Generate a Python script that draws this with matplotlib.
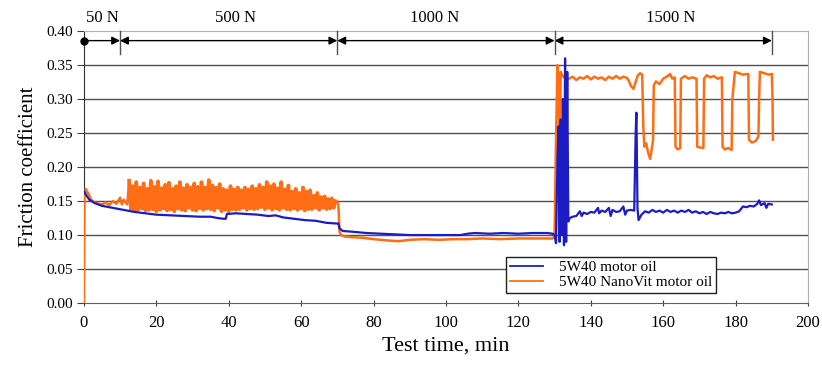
import numpy as np
import matplotlib
matplotlib.use("Agg")
import matplotlib.pyplot as plt

plt.rcParams['font.family'] = ['Liberation Serif', 'DejaVu Serif']

# 5W40 motor oil (blue)
blue_t = [0.0, 0.5, 1.5, 3, 5, 8, 11, 14, 17, 20, 24, 28, 32, 35, 37, 38.5, 39.2, 39.5,
          42, 45, 48, 51, 53, 55, 58, 61, 64, 67, 69.8, 70.3, 70.6, 71.5, 74, 78, 82, 86,
          90, 95, 100, 104, 106, 108, 112, 116, 120, 124, 128, 129.5, 130.0, 130.4, 130.8,
          131.1, 131.4, 131.7, 132.0, 132.3, 132.6, 132.9, 133.2, 133.5, 133.8, 134.2, 135,
          136, 137, 137.5, 138, 139, 140, 141, 142, 142.3, 143, 144, 145, 145.5, 146, 147,
          148, 149, 149.5, 150, 151, 152, 152.4, 152.6, 152.9, 153.2, 154, 155, 156, 157,
          158, 159, 160, 161, 162, 163, 164, 165, 166, 167, 168, 169, 170, 171, 172, 173,
          174, 175, 176, 177, 178, 179, 180, 181, 182, 183, 184, 185, 186, 186.5, 187, 188,
          188.5, 189, 190]
blue_f = [0.165, 0.16, 0.152, 0.147, 0.143, 0.14, 0.137, 0.134, 0.132, 0.13, 0.129, 0.128,
          0.127, 0.127, 0.125, 0.124, 0.124, 0.131, 0.132, 0.131, 0.13, 0.128, 0.129, 0.126,
          0.124, 0.122, 0.121, 0.118, 0.117, 0.117, 0.11, 0.106, 0.105, 0.103, 0.102, 0.101,
          0.1, 0.1, 0.1, 0.1, 0.102, 0.103, 0.102, 0.103, 0.102, 0.103, 0.103, 0.102, 0.1,
          0.088, 0.21, 0.26, 0.09, 0.27, 0.1, 0.3, 0.085, 0.36, 0.09, 0.34, 0.12, 0.125,
          0.127, 0.128, 0.135, 0.128, 0.133, 0.131, 0.134, 0.133, 0.14, 0.132, 0.136, 0.134,
          0.14, 0.128, 0.137, 0.134, 0.135, 0.142, 0.13, 0.136, 0.137, 0.136, 0.25, 0.28,
          0.14, 0.122, 0.13, 0.135, 0.133, 0.137, 0.134, 0.136, 0.133, 0.137, 0.134, 0.136,
          0.133, 0.136, 0.134, 0.137, 0.133, 0.135, 0.132, 0.134, 0.131, 0.134, 0.132, 0.131,
          0.133, 0.132, 0.134, 0.132, 0.133, 0.135, 0.142, 0.141, 0.143, 0.142, 0.146, 0.151,
          0.144, 0.147, 0.14, 0.146, 0.145]

# 5W40 NanoVit motor oil (orange): start, noisy 500 N band, rest
orange_start_t = [0.0, 0.2, 0.5, 1, 1.5, 2, 3, 4, 5, 6, 7, 8, 9, 10, 10.5, 11, 11.5, 12]
orange_start_f = [0.0, 0.16, 0.168, 0.163, 0.158, 0.152, 0.148, 0.146, 0.145, 0.148, 0.144,
                  0.15, 0.146, 0.155, 0.145, 0.152, 0.148, 0.145]

# readings every 0.5 min from 12.5 to 69.5 min
orange_band_t0 = 12.5
orange_band_step = 0.5
orange_band_f = [
    0.180, 0.138, 0.172, 0.136, 0.178, 0.137, 0.170, 0.139, 0.176, 0.136,
    0.168, 0.137, 0.180, 0.138, 0.171, 0.135, 0.179, 0.137, 0.169, 0.139,
    0.174, 0.136, 0.177, 0.138, 0.168, 0.135, 0.172, 0.139, 0.178, 0.137,
    0.169, 0.136, 0.174, 0.140, 0.170, 0.137, 0.176, 0.136, 0.171, 0.139,
    0.178, 0.137, 0.170, 0.139, 0.181, 0.138, 0.173, 0.136, 0.170, 0.140,
    0.175, 0.135, 0.168, 0.137, 0.166, 0.135, 0.172, 0.138, 0.167, 0.137,
    0.170, 0.138, 0.166, 0.140, 0.170, 0.137, 0.167, 0.139, 0.172, 0.138,
    0.168, 0.139, 0.174, 0.141, 0.170, 0.138, 0.178, 0.140, 0.172, 0.137,
    0.175, 0.139, 0.169, 0.137, 0.178, 0.140, 0.167, 0.138, 0.173, 0.137,
    0.164, 0.139, 0.168, 0.137, 0.162, 0.139, 0.170, 0.136, 0.164, 0.138,
    0.166, 0.138, 0.158, 0.140, 0.162, 0.137, 0.156, 0.140, 0.157, 0.138,
    0.153, 0.139, 0.154, 0.140, 0.150]

orange_end_t = [70.0, 70.3, 70.6, 71, 72, 74, 77, 80, 84, 87, 90, 94, 98, 102, 106, 110, 115,
                120, 125, 129.5, 130.0, 130.4, 130.8, 131.1, 131.4, 131.7, 132.1, 133, 134,
                135, 136, 137, 138, 139, 140, 141, 142, 143, 144, 145, 146, 147, 148, 149,
                150, 150.5, 151, 151.8, 152.3, 153, 153.6, 154.2, 154.5, 154.8, 155.3, 155.8,
                156.4, 156.8, 157.2, 157.4, 158, 159, 160, 161, 161.9, 162.5, 163.2, 163.4,
                164, 164.7, 164.9, 166, 167, 168, 169.2, 169.4, 170, 171.1, 171.3, 172, 173,
                174, 175, 176.2, 176.4, 177, 178, 178.9, 179.1, 179.8, 181, 182, 183.5, 183.7,
                184.5, 185.5, 186.3, 186.5, 186.7, 188, 189, 190, 190.2, 190.3]
orange_end_f = [0.148, 0.145, 0.105, 0.1, 0.098, 0.097, 0.096, 0.094, 0.092, 0.091, 0.093,
                0.094, 0.093, 0.094, 0.094, 0.095, 0.094, 0.095, 0.095, 0.095, 0.098, 0.24,
                0.35, 0.33, 0.2, 0.34, 0.335, 0.33, 0.33, 0.333, 0.328, 0.332, 0.33, 0.334,
                0.329, 0.333, 0.33, 0.332, 0.328, 0.333, 0.33, 0.334, 0.33, 0.333, 0.331,
                0.327, 0.32, 0.315, 0.324, 0.335, 0.338, 0.336, 0.26, 0.23, 0.235, 0.222,
                0.212, 0.225, 0.24, 0.32, 0.326, 0.322, 0.33, 0.333, 0.337, 0.33, 0.332, 0.23,
                0.226, 0.228, 0.33, 0.334, 0.33, 0.332, 0.33, 0.23, 0.229, 0.228, 0.33, 0.335,
                0.332, 0.334, 0.33, 0.332, 0.23, 0.226, 0.228, 0.225, 0.3, 0.34, 0.338, 0.336,
                0.337, 0.24, 0.236, 0.238, 0.245, 0.3, 0.34, 0.338, 0.336, 0.337, 0.3, 0.24]

# load stages
stage_labels = ['50 N', '500 N', '1000 N', '1500 N']
stage_bounds = [0, 10, 70, 130, 190]
stage_label_x = [5, 42, 97, 162]

blue_color = '#1c1cc4'
orange_color = '#ff6e14'

band_t = orange_band_t0 + orange_band_step * np.arange(len(orange_band_f))
orange_t = np.concatenate([orange_start_t, band_t, orange_end_t])
orange_f = np.concatenate([orange_start_f, orange_band_f, orange_end_f])

fig = plt.figure(figsize=(8.22, 3.66), dpi=100)
ax = fig.add_axes([0.102, 0.172, 0.881, 0.743])

for y in np.arange(0.05, 0.40, 0.05):
    ax.axhline(y, color='#505050', lw=1, zorder=1)

orange_line, = ax.plot(orange_t, orange_f, color=orange_color, lw=1.8, zorder=3)
# the noisy part is drawn heavier so it reads as a solid band
ax.plot(band_t, orange_band_f, color=orange_color, lw=2.6, zorder=3)
blue_line, = ax.plot(blue_t, blue_f, color=blue_color, lw=1.6, zorder=4)

ax.set_xlim(0, 200)
ax.set_ylim(0, 0.40)
ax.set_xticks(np.arange(0, 201, 20))
ax.set_yticks(np.arange(0, 0.401, 0.05))
ax.yaxis.set_major_formatter(matplotlib.ticker.FormatStrFormatter('%.2f'))
ax.tick_params(axis='x', direction='inout', length=5, color='#404040', labelsize=12, pad=6)
ax.tick_params(axis='y', direction='out', length=5, color='#404040', labelsize=11, pad=3)

ax.spines['left'].set_color('#303030')
ax.spines['bottom'].set_color('#606060')
ax.spines['top'].set_color('#b0b0b0')
ax.spines['right'].set_color('#b0b0b0')

ax.set_xlabel('Test time, min', fontsize=16, labelpad=4)
ax.set_ylabel('Friction coefficient', fontsize=15, labelpad=6)

# stage arrows on top
arrow_y = 0.386
ax.plot([stage_bounds[0]], [arrow_y], 'o', color='k', ms=5, clip_on=False, zorder=6)
for i in range(len(stage_labels)):
    style = '-|>' if i == 0 else '<|-|>'
    ax.annotate('', xy=(stage_bounds[i + 1], arrow_y), xytext=(stage_bounds[i], arrow_y),
                arrowprops=dict(arrowstyle=style, color='k', lw=1, mutation_scale=12,
                                shrinkA=0, shrinkB=0), annotation_clip=False)
    ax.text(stage_label_x[i], 0.42, stage_labels[i], ha='center', va='center',
            fontsize=12, clip_on=False)
for b in stage_bounds[1:]:
    ax.plot([b, b], [0.367, 0.40], color='#505050', lw=1, clip_on=False, zorder=5)

leg = ax.legend([blue_line, orange_line], ['5W40 motor oil', '5W40 NanoVit motor oil'],
                loc='lower left', bbox_to_anchor=(0.583, 0.038), fontsize=11,
                frameon=True, fancybox=False, framealpha=1, edgecolor='#202020',
                handlelength=2.2, borderpad=0.25, labelspacing=0.05, handletextpad=1.0,
                borderaxespad=0)
leg.get_frame().set_linewidth(1)
leg.set_zorder(10)
for h in leg.get_lines():
    h.set_linewidth(1.3)

fig.savefig('out.png', dpi=100)
